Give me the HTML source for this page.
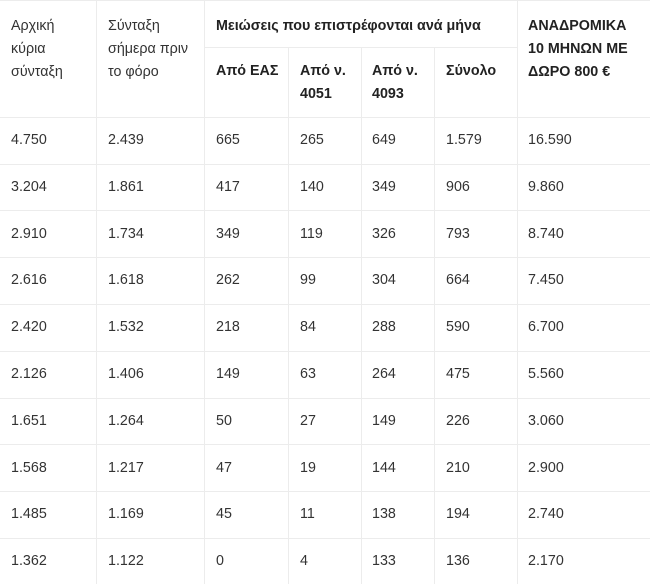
<!DOCTYPE html>
<html><head><meta charset="utf-8"><style>
body{margin:0;width:650px;height:584px;background:#fff;position:relative;overflow:hidden;font-family:"Liberation Sans",Arial,sans-serif;font-size:14.3px;color:#333;}
.h{position:absolute;background:#ececec;height:1px;}
.v{position:absolute;background:#ececec;width:1px;}
.t{position:absolute;line-height:23px;white-space:nowrap;}
.b{font-weight:bold;color:#222;}
</style></head><body>
<div class="v" style="left:96px;top:0;height:584px"></div>
<div class="v" style="left:204px;top:0;height:584px"></div>
<div class="v" style="left:288px;top:47px;height:537px"></div>
<div class="v" style="left:361px;top:47px;height:537px"></div>
<div class="v" style="left:434px;top:47px;height:537px"></div>
<div class="v" style="left:517px;top:0;height:584px"></div>
<div class="h" style="left:204px;width:313px;top:47px"></div>
<div class="h" style="left:0;width:650px;top:0"></div>
<div class="h" style="left:0;width:650px;top:117px"></div>
<div class="h" style="left:0;width:650px;top:164px"></div>
<div class="h" style="left:0;width:650px;top:210px"></div>
<div class="h" style="left:0;width:650px;top:257px"></div>
<div class="h" style="left:0;width:650px;top:304px"></div>
<div class="h" style="left:0;width:650px;top:351px"></div>
<div class="h" style="left:0;width:650px;top:398px"></div>
<div class="h" style="left:0;width:650px;top:444px"></div>
<div class="h" style="left:0;width:650px;top:491px"></div>
<div class="h" style="left:0;width:650px;top:538px"></div>

<div class="t" style="left:11px;top:15px">Αρχική<br>κύρια<br>σύνταξη</div>
<div class="t" style="left:108px;top:15px">Σύνταξη<br>σήμερα πριν<br>το φόρο</div>
<div class="t b" style="left:216px;top:15px">Μειώσεις που επιστρέφονται ανά μήνα</div>
<div class="t b" style="left:528px;top:15px">ΑΝΑΔΡΟΜΙΚΑ<br>10 ΜΗΝΩΝ ΜΕ<br>ΔΩΡΟ 800 €</div>
<div class="t b" style="left:216px;top:60px">Από ΕΑΣ</div>
<div class="t b" style="left:300px;top:60px">Από ν.<br>4051</div>
<div class="t b" style="left:372px;top:60px">Από ν.<br>4093</div>
<div class="t b" style="left:446px;top:60px">Σύνολο</div>

<div id="rows"></div>
<script>
var d=[["4.750","2.439","665","265","649","1.579","16.590"],
["3.204","1.861","417","140","349","906","9.860"],
["2.910","1.734","349","119","326","793","8.740"],
["2.616","1.618","262","99","304","664","7.450"],
["2.420","1.532","218","84","288","590","6.700"],
["2.126","1.406","149","63","264","475","5.560"],
["1.651","1.264","50","27","149","226","3.060"],
["1.568","1.217","47","19","144","210","2.900"],
["1.485","1.169","45","11","138","194","2.740"],
["1.362","1.122","0","4","133","136","2.170"]];
var xs=[11,108,216,300,372,446,528],h="";
d.forEach(function(r,i){var y=129+i*46.8;r.forEach(function(c,j){h+='<div class="t" style="left:'+xs[j]+'px;top:'+y.toFixed(1)+'px">'+c+'</div>';});});
document.getElementById("rows").innerHTML=h;
</script>
</body></html>
